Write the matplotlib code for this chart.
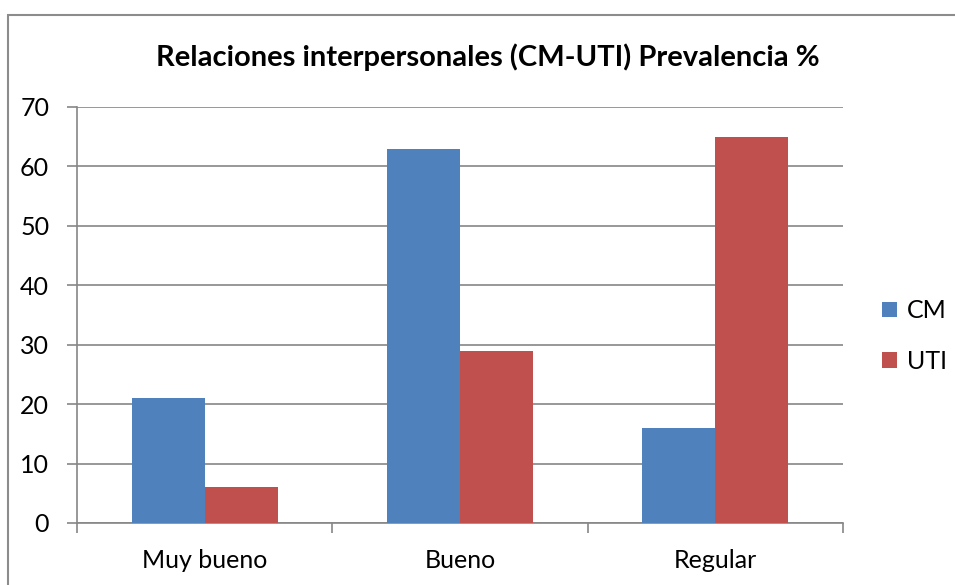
import matplotlib
matplotlib.use("Agg")
import matplotlib.pyplot as plt
import numpy as np
from matplotlib.patches import Rectangle

categories = ["Muy bueno", "Bueno", "Regular"]
cm_values = [21, 63, 16]
uti_values = [6, 29, 65]
series_names = ["CM", "UTI"]
yticks = [0, 10, 20, 30, 40, 50, 60, 70]

plt.rcParams['font.family'] = ['Lato', 'DejaVu Sans']

fig = plt.figure(figsize=(9.55, 5.85), dpi=100)
fig.patch.set_facecolor('white')
# outer chart frame
fig.add_artist(Rectangle((8/955, -0.05), 1.1, 1 - 15/585 + 0.05, transform=fig.transFigure,
                         fill=False, edgecolor='#8c8c8c', linewidth=1.5))

ax = fig.add_axes([77/955, 1 - 523/585, (843 - 77)/955, (523 - 107)/585])
x = np.arange(len(categories))
w = 0.2857
ax.bar(x - w/2, cm_values, w, color='#4F81BD', label=series_names[0], zorder=3)
ax.bar(x + w/2, uti_values, w, color='#C0504D', label=series_names[1], zorder=3)

ax.set_xlim(-0.5, 2.5)
ax.set_ylim(0, 70)
ax.set_yticks(yticks)
ax.yaxis.grid(True, color='#868686', linewidth=1.2, zorder=0)
ax.set_axisbelow(True)
for s in ['top', 'right']:
    ax.spines[s].set_visible(False)
for s in ['left', 'bottom']:
    ax.spines[s].set_color('#868686')
    ax.spines[s].set_linewidth(1.2)

ax.set_xticks(x)
ax.set_xticklabels(categories, fontsize=18)
ax.tick_params(axis='x', length=0, pad=19)
ax.set_xticks([-0.5, 0.5, 1.5, 2.5], minor=True)
ax.tick_params(axis='x', which='minor', length=7, color='#868686', width=1.2, direction='out')
ax.tick_params(axis='y', length=7, color='#868686', width=1.2, labelsize=18, pad=13)

fig.text(488/955, 1 - 57/585, "Relaciones interpersonales (CM-UTI) Prevalencia %",
         ha='center', va='center', fontsize=21, fontweight='bold')

leg = ax.legend(loc='center left', bbox_to_anchor=(882/955, 1 - 336/585),
                bbox_transform=fig.transFigure, frameon=False, fontsize=18,
                borderaxespad=0, borderpad=0,
                handlelength=0.6, handleheight=0.6, handletextpad=0.4, labelspacing=1.1)

fig.savefig("out.png", dpi=100, facecolor='white')
